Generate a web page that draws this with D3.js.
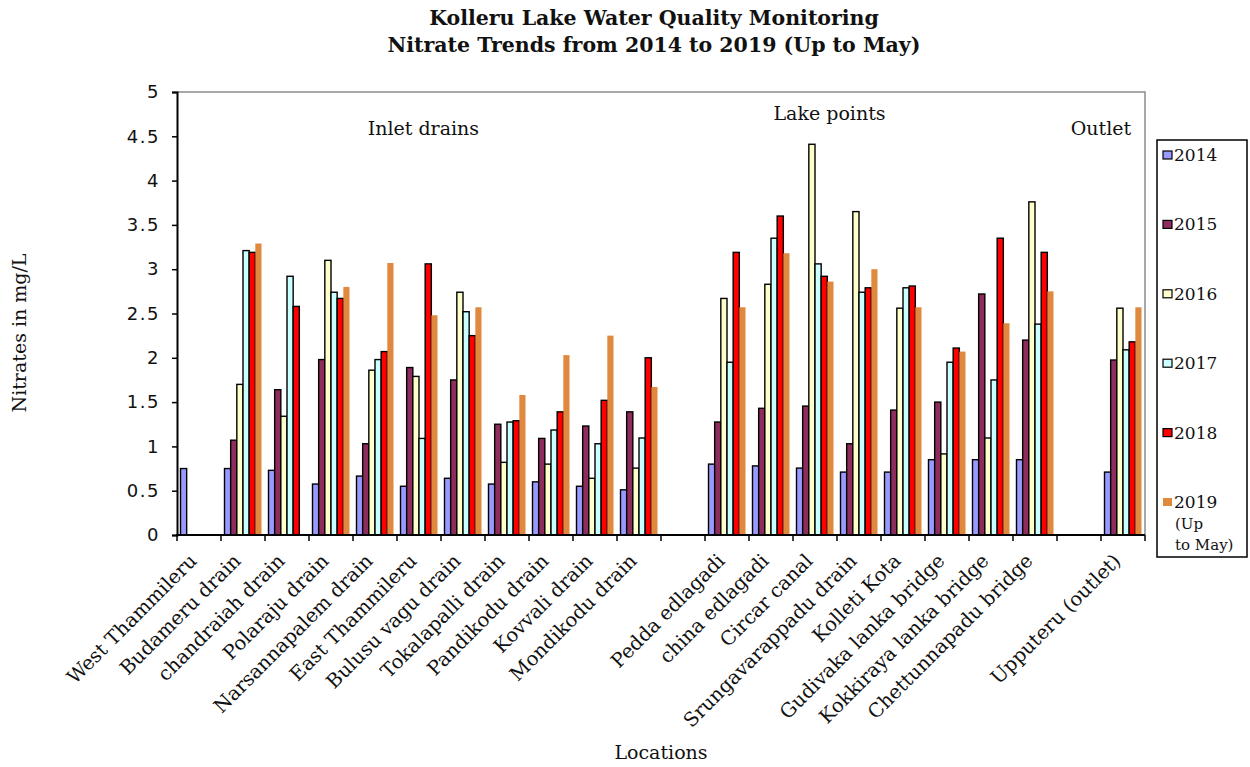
<!DOCTYPE html>
<html>
<head>
<meta charset="utf-8">
<script src="https://cdn.jsdelivr.net/npm/d3@7"></script>
<style>
  html, body { margin: 0; padding: 0; background: #fff; }
  svg { display: block; }
  text { fill: #111; }
</style>
</head>
<body>
<svg id="chart" width="1250" height="767"></svg>
<script>
// Sampling locations (empty names are spacer slots between groups)
const categories = [
  "West Thammileru", "Budameru drain", "chandraiah drain", "Polaraju drain",
  "Narsannapalem drain", "East Thammileru", "Bulusu vagu drain", "Tokalapalli drain",
  "Pandikodu drain", "Kovvali drain", "Mondikodu drain", "",
  "Pedda edlagadi", "china edlagadi", "Circar canal", "Srungavarappadu drain",
  "Kolleti Kota", "Gudivaka lanka bridge", "Kokkiraya lanka bridge", "Chettunnapadu bridge",
  "", "Upputeru (outlet)"
];

const years = ["2014", "2015", "2016", "2017", "2018", "2019"];
const legendLabels = [["2014"], ["2015"], ["2016"], ["2017"], ["2018"], ["2019", "(Up", "to May)"]];

// Nitrate concentration (mg/L) per location, one array per year
const v2014 = [0.75, 0.75, 0.73, 0.575, 0.665, 0.55, 0.64, 0.575, 0.60, 0.55, 0.51, null,
               0.80, 0.78, 0.755, 0.71, 0.71, 0.85, 0.85, 0.85, null, 0.71];
const v2015 = [null, 1.07, 1.64, 1.98, 1.03, 1.89, 1.75, 1.25, 1.09, 1.23, 1.39, null,
               1.275, 1.43, 1.455, 1.03, 1.41, 1.50, 2.72, 2.20, null, 1.975];
const v2016 = [null, 1.70, 1.34, 3.10, 1.86, 1.79, 2.74, 0.82, 0.80, 0.64, 0.755, null,
               2.67, 2.83, 4.41, 3.65, 2.56, 0.915, 1.095, 3.76, null, 2.56];
const v2017 = [null, 3.21, 2.92, 2.74, 1.98, 1.09, 2.52, 1.275, 1.185, 1.03, 1.095, null,
               1.95, 3.35, 3.06, 2.74, 2.79, 1.95, 1.75, 2.38, null, 2.09];
const v2018 = [null, 3.19, 2.58, 2.67, 2.07, 3.06, 2.25, 1.29, 1.39, 1.52, 2.00, null,
               3.19, 3.60, 2.92, 2.79, 2.81, 2.11, 3.35, 3.19, null, 2.18];
const v2019 = [null, 3.29, null, 2.80, 3.07, 2.48, 2.57, 1.58, 2.03, 2.25, 1.67, null,
               2.57, 3.18, 2.86, 3.00, 2.57, 2.07, 2.39, 2.75, null, 2.57];
const seriesValues = [v2014, v2015, v2016, v2017, v2018, v2019];

const yTicks = [0, 0.5, 1, 1.5, 2, 2.5, 3, 3.5, 4, 4.5, 5];
const yTickLabels = ["0", "0.5", "1", "1.5", "2", "2.5", "3", "3.5", "4", "4.5", "5"];

const groupLabels = [
  { text: "Inlet drains", at: 5.6, value: 4.51 },
  { text: "Lake points", at: 14.83, value: 4.68 },
  { text: "Outlet", at: 21.0, value: 4.51 }
];

const colors = ["#9999ff", "#8e2c5e", "#ffffcc", "#ccffff", "#ff0000", "#e0883e"];
const outlined = [true, true, true, true, true, false];

const serif = "'DejaVu Serif', 'Liberation Serif', serif";
const sans = "'DejaVu Sans', sans-serif";

const svg = d3.select("#chart");
const plot = { left: 177, right: 1145, top: 92, bottom: 535 };

const x = d3.scaleBand()
  .domain(d3.range(categories.length))
  .range([plot.left, plot.right])
  .paddingInner(0).paddingOuter(0);

const x1 = d3.scaleBand()
  .domain(years)
  .range([3.5, x.bandwidth() - 3.5])
  .paddingInner(0);

const y = d3.scaleLinear().domain([0, 5]).range([plot.bottom, plot.top]);

// Title
const title = svg.append("text")
  .attr("text-anchor", "middle")
  .style("font-family", serif).style("font-weight", "bold").style("font-size", "20.5px");
title.append("tspan").attr("x", 654).attr("y", 25).text("Kolleru Lake Water Quality Monitoring");
title.append("tspan").attr("x", 654).attr("y", 52).text("Nitrate Trends from 2014 to 2019 (Up to May)");

// Plot frame: grey top/right edges
svg.append("path")
  .attr("d", `M${plot.left},${plot.top}H${plot.right}V${plot.bottom}`)
  .attr("fill", "none").attr("stroke", "#8c8c8c").attr("stroke-width", 1.5);

// Bars
const groups = svg.append("g").selectAll("g")
  .data(categories.map((c, i) => i))
  .join("g")
  .attr("transform", i => `translate(${x(i)},0)`);

groups.selectAll("rect")
  .data(i => years.map((yr, s) => ({ s, yr, v: seriesValues[s][i] })).filter(d => d.v != null))
  .join("rect")
  .attr("x", d => x1(d.yr))
  .attr("width", x1.bandwidth())
  .attr("y", d => y(d.v))
  .attr("height", d => y(0) - y(d.v))
  .attr("fill", d => colors[d.s])
  .attr("stroke", d => outlined[d.s] ? "#000" : "none")
  .attr("stroke-width", 1.4);

// Y axis
const yAxis = d3.axisLeft(y).tickValues(yTicks)
  .tickFormat((d, i) => yTickLabels[i]).tickSize(5).tickPadding(12);
const gy = svg.append("g").attr("transform", `translate(${plot.left},0)`).call(yAxis);
gy.select(".domain").attr("stroke", "#000").attr("stroke-width", 2);
gy.selectAll(".tick line").attr("stroke", "#000").attr("stroke-width", 1.5);
gy.selectAll(".tick text").style("font-family", sans).style("font-size", "18px")
  .style("letter-spacing", "1.5px").attr("fill", "#222");

// X axis: ticks at category boundaries
const gx = svg.append("g");
gx.append("line")
  .attr("x1", plot.left - 1).attr("x2", plot.right)
  .attr("y1", y(0)).attr("y2", y(0))
  .attr("stroke", "#000").attr("stroke-width", 2);
gx.selectAll("line.tk")
  .data(d3.range(categories.length + 1))
  .join("line").attr("class", "tk")
  .attr("x1", i => plot.left + i * x.step()).attr("x2", i => plot.left + i * x.step())
  .attr("y1", y(0)).attr("y2", y(0) + 6)
  .attr("stroke", "#000").attr("stroke-width", 1.5);

gx.selectAll("text")
  .data(categories.map((c, i) => ({ c, i })).filter(d => d.c))
  .join("text")
  .attr("transform", d => `translate(${x(d.i) + x.bandwidth() / 2 - 1},${y(0) + 27}) rotate(-45)`)
  .attr("text-anchor", "end")
  .style("font-family", serif).style("font-size", "19.5px")
  .text(d => d.c);

// Group captions inside the plot
svg.append("g").selectAll("text")
  .data(groupLabels)
  .join("text")
  .attr("x", d => plot.left + d.at * x.step())
  .attr("y", d => y(d.value))
  .attr("text-anchor", "middle")
  .style("font-family", serif).style("font-size", "19px")
  .text(d => d.text);

// Axis titles
svg.append("text")
  .attr("transform", "translate(26,333) rotate(-90)")
  .attr("text-anchor", "middle")
  .style("font-family", serif).style("font-size", "19px")
  .text("Nitrates in mg/L");

svg.append("text")
  .attr("x", 661).attr("y", 759)
  .attr("text-anchor", "middle")
  .style("font-family", serif).style("font-size", "19px")
  .text("Locations");

// Legend
const legend = svg.append("g");
legend.append("rect")
  .attr("x", 1157).attr("y", 140).attr("width", 90).attr("height", 417)
  .attr("fill", "#fff").attr("stroke", "#000").attr("stroke-width", 1.5);

const ly = d3.scalePoint().domain(years).range([155, 502]);
const items = legend.selectAll("g.item").data(years).join("g").attr("class", "item")
  .attr("transform", d => `translate(1163,${ly(d)})`);
items.append("rect")
  .attr("x", 0).attr("y", -4).attr("width", 9).attr("height", 8)
  .attr("fill", (d, i) => colors[i])
  .attr("stroke", (d, i) => outlined[i] ? "#000" : "none")
  .attr("stroke-width", 1.2);
items.each(function (d, i) {
  const t = d3.select(this).append("text")
    .style("font-family", serif);
  legendLabels[i].forEach((line, k) => {
    t.append("tspan").attr("x", k === 0 ? 11 : 12).attr("y", 6 + k * 21)
      .style("font-size", k === 0 ? "17px" : "15px").text(line);
  });
});
</script>
</body>
</html>
